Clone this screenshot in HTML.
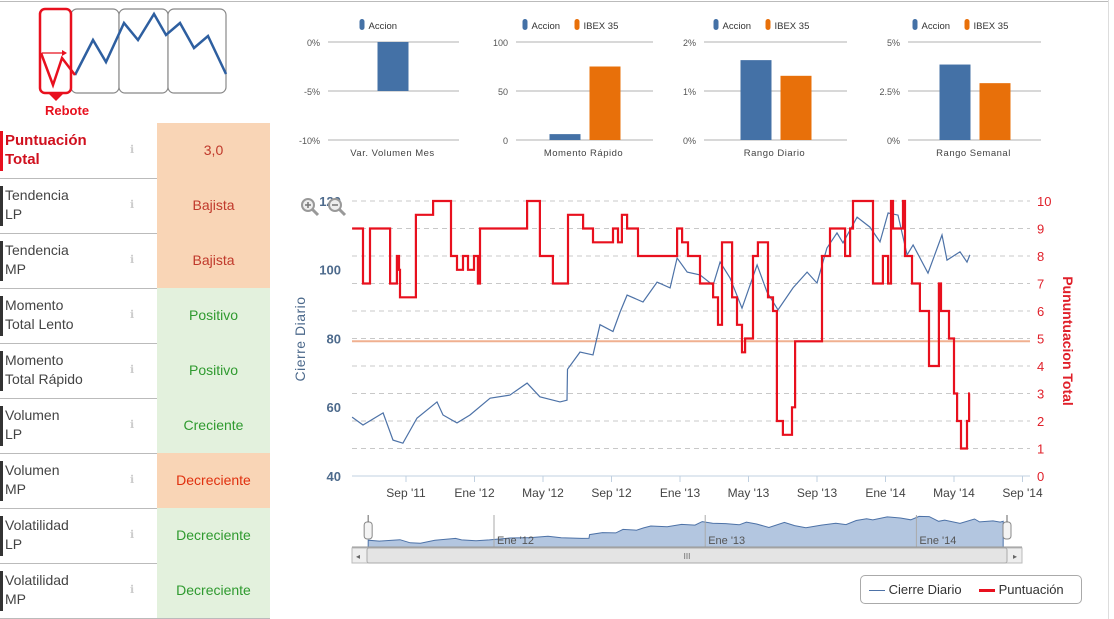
<!DOCTYPE html>
<html><head><meta charset="utf-8">
<style>
body{margin:0;width:1114px;height:619px;overflow:hidden;background:#fff;font-family:"Liberation Sans",sans-serif;position:relative}
.row{position:absolute;left:0;width:270px;height:55px;border-bottom:1px solid #bbb}
.lbl{position:absolute;left:5px;top:8px;font-size:14px;line-height:19px;color:#444}
.bar{position:absolute;left:0;top:8px;width:3px;height:40px;background:#333}
.info{position:absolute;left:130px;top:20px;font-size:11px;color:#ccc}
.val{position:absolute;left:157px;top:0;width:113px;height:55px;line-height:55px;text-align:center;font-size:14px}
.peach{background:#f9d5b6}.green{background:#e3f1dd}
</style></head><body>
<div style="position:absolute;left:0;top:1px;width:1108px;height:1px;background:#bbb"></div>
<div style="position:absolute;left:1108px;top:0;width:1px;height:619px;background:#ddd"></div>
<svg width="270" height="122" style="position:absolute;left:0;top:0">
<rect x="71" y="9" width="48" height="84" rx="6" fill="#fff" stroke="#888" stroke-width="1.2"/>
<rect x="119" y="9" width="49" height="84" rx="6" fill="#fff" stroke="#888" stroke-width="1.2"/>
<rect x="168" y="9" width="58" height="84" rx="6" fill="#fff" stroke="#888" stroke-width="1.2"/>
<rect x="40" y="9" width="31" height="84" rx="5" fill="none" stroke="#e8101e" stroke-width="2.5"/>
<polygon points="48,93 64,93 56,101" fill="#e8101e"/>
<polyline points="75,75 93,40 106,62 124,23 138,40 154,14 166,35 180,23 194,48 208,36 226,74" fill="none" stroke="#2e5fa0" stroke-width="2.5"/>
<polyline points="41,53 53,85 62,58 75,75" fill="none" stroke="#e8101e" stroke-width="2.5"/>
<line x1="42" y1="53" x2="64" y2="53" stroke="#e8101e" stroke-width="1.2"/><polygon points="62,50 67,53 62,56" fill="#e8101e"/>
<text x="45" y="115" font-size="13" font-weight="bold" fill="#e8101e">Rebote</text>
</svg>
<div id="table"></div>
<svg id="svg" width="1114" height="619" style="position:absolute;left:0;top:0;pointer-events:none"></svg>
<div style="position:absolute;left:860px;top:575px;width:220px;height:27px;border:1px solid #aaa;border-radius:5px;font-size:13px;color:#333;line-height:27px">
<span style="position:absolute;left:8px"><span style="display:inline-block;width:16px;height:1px;background:#4d72a7;vertical-align:middle"></span> Cierre Diario</span>
<span style="position:absolute;left:118px"><span style="display:inline-block;width:16px;height:3px;background:#e8101e;vertical-align:middle"></span> Puntuación</span>
</div>
<script>
const rowLabels=[["Puntuación","Total"],["Tendencia","LP"],["Tendencia","MP"],["Momento","Total Lento"],["Momento","Total Rápido"],["Volumen","LP"],["Volumen","MP"],["Volatilidad","LP"],["Volatilidad","MP"]];
const rowValues=["3,0","Bajista","Bajista","Positivo","Positivo","Creciente","Decreciente","Decreciente","Decreciente"];
const rowBg=["peach","peach","peach","green","green","green","peach","green","green"];
const rowColor=["#c0392b","#c0392b","#c0392b","#2f9a2f","#2f9a2f","#2f9a2f","#e0300e","#2f9a2f","#2f9a2f"];
const tbl=document.getElementById('table');
rowLabels.forEach((l,i)=>{
 const r=document.createElement('div');r.className='row';r.style.top=(123+i*55)+'px';
 
 
 const first=i===0;
 r.innerHTML=`<div class="bar" style="background:${first?'#e8101e':'#333'}"></div><div class="lbl" style="${first?'color:#d0101e;font-weight:bold;font-size:15px':''}">${l[0]}<br>${l[1]}</div><div class="info">&#8505;</div><div class="val ${rowBg[i]}" style="color:${rowColor[i]}">${rowValues[i]}</div>`;
 tbl.appendChild(r);
});
const NS="http://www.w3.org/2000/svg",svg=document.getElementById('svg');
function el(t,a,txt,p){const e=document.createElementNS(NS,t);for(const k in a)e.setAttribute(k,a[k]);if(txt!=null)e.textContent=txt;(p||svg).appendChild(e);return e;}

// mini bar charts
const miniTitles=["Var. Volumen Mes","Momento Rápido","Rango Diario","Rango Semanal"];
const miniAccion=[-5,6,1.63,3.85];
const miniIbex=[null,75,1.31,2.9];
const miniMax=[0,100,2,5];
const miniMin=[-10,0,0,0];
const miniTicks=[["0%","-5%","-10%"],["100","50","0"],["2%","1%","0%"],["5%","2.5%","0%"]];
const miniLeft=[328,516,704,908], miniRight=[459,653,847,1041];
miniTitles.forEach((t,i)=>{
 const x0=miniLeft[i],x1=miniRight[i],yT=42,yB=140;
 const ys=v=>yT+(miniMax[i]-v)/(miniMax[i]-miniMin[i])*(yB-yT);
 miniTicks[i].forEach((tk,j)=>{const y=yT+j*49;
  const g=el('line',{x1:x0,x2:x1,y1:y,y2:y,stroke:'#ccc','stroke-width':1.5});
  
  
  const tx=el('text',{x:x0-8,y:y+4,'font-size':9,fill:'#555','text-anchor':'end'},tk);
  
  });
 const cx=(x0+x1)/2, two=miniIbex[i]!==null;
 const base=ys(Math.min(Math.max(0,miniMin[i]),miniMax[i]));
 const bx=two?cx-35:cx-16;
 const y0=ys(0),ya=ys(miniAccion[i]);
 const b=el('rect',{x:bx,y:Math.min(y0,ya),width:31,height:Math.abs(ya-y0),fill:'#4471a6'});
 
 
 if(two){const yi=ys(miniIbex[i]);const b2=el('rect',{x:cx+5,y:Math.min(y0,yi),width:31,height:Math.abs(yi-y0),fill:'#e8700a'});
  
  }
 const ct=el('text',{x:cx-1,y:156,'font-size':9.5,fill:'#444','text-anchor':'middle','letter-spacing':'0.5'},t);
 
 
 const lx=two?cx-62:cx-34;
 el('rect',{x:lx,y:19,width:5,height:11,rx:2.5,fill:'#4471a6'});
 const la=el('text',{x:lx+9,y:29,'font-size':9.5,fill:'#333'},'Accion');
 
 
 if(two){el('rect',{x:lx+52,y:19,width:5,height:11,rx:2.5,fill:'#e8700a'});
  const li=el('text',{x:lx+61,y:29,'font-size':9.5,fill:'#333'},'IBEX 35');
  
  }
});

// main chart data (m = months since Jan 2011)
const closeMonths=[4.85,5.49,6.66,7.24,7.82,8.64,9.81,10.16,10.98,11.74,12.91,14.07,15.07,15.82,16.99,17.40,17.43,18.16,18.92,19.33,20.09,20.50,20.91,21.84,22.66,23.42,23.83,24.42,25.17,25.93,26.34,26.92,27.62,28.50,29.08,29.72,30.60,31.42,32.00,32.58,33.17,33.52,34.34,35.09,35.68,36.15,36.73,37.26,37.61,38.48,39.30,39.59,40.35,40.76,40.93];
const closeValues=[57.1,54.8,58.3,50.4,49.5,56.8,61.5,57.7,55.4,57.7,62.6,63.5,67,63,61.5,62,71,76,75.2,84,82,87.7,92.6,90.6,96.4,94.7,103.4,99.3,98.5,95.5,102.2,97.6,88.8,101.4,93.5,88.3,94.7,99.3,96.1,106.3,110.7,107.8,115.3,112.4,108.1,116.5,115.9,104.3,107.2,99.0,110.1,102.8,105.2,102.2,104.3];
const scoreMonths=[4.85,5.49,5.90,7.07,7.47,7.59,7.65,8.58,9.58,10.63,10.98,11.33,11.62,11.97,12.20,12.32,15.07,15.82,16.58,17.46,18.34,18.92,20.09,20.38,20.61,20.91,21.55,23.83,24.12,24.47,25.17,25.93,26.22,26.45,27.04,27.33,27.62,27.80,28.26,28.55,29.14,29.43,29.66,30.01,30.54,30.72,32.29,32.76,33.64,33.93,34.10,35.27,35.85,36.15,36.32,36.44,37.02,37.14,37.55,38.01,38.54,39.12,39.24,39.71,40.0,40.18,40.41,40.76,40.88,40.93];
const scoreValues=[9,7,9,7,8,7.5,6.5,9.5,10,8,7.5,8,7.5,8,7,9,10,8,7,9.5,9,8.5,9,8.5,9.5,9,8,9,8.5,8,7,6.5,5.5,8.5,6.5,5.5,4.5,5,8,8.5,6.5,6,2,1.5,2.5,4.9,8,9,8,9,10,7,8,7,10,9,10,8,7,6,4,7,6,5,3,2,1,2,3,3];
const leftTicks=[120,100,80,60,40];
const rightTicks=[0,1,2,3,4,5,6,7,8,9,10];
const xTickMonths=[8,12,16,20,24,28,32,36,40,44];
const xTickLabels=["Sep '11","Ene '12","May '12","Sep '12","Ene '13","May '13","Sep '13","Ene '14","May '14","Sep '14"];
const navTickMonths=[12,24,36];
const navTickLabels=["Ene '12","Ene '13","Ene '14"];
const threshold=4.9;

const xM=m=>406+(m-8)*17.125;
const yL=v=>201+(120-v)*3.435;
const yR=s=>476-s*27.5;
const PL=352,PR=1030;

rightTicks.forEach(s=>{const y=yR(s);
 const g=el('line',{x1:PL,x2:PR,y1:y,y2:y,stroke:s===0?'#c0d0e0':'#c8c8c8','stroke-dasharray':s===0?'':'5,4','stroke-width':1});
 
 
 const t=el('text',{x:1037,y:y+5,'font-size':13,fill:'#e0202a'},String(s));
 
 });
leftTicks.forEach(v=>{const t=el('text',{x:341,y:yL(v)+5,'font-size':13,'font-weight':'bold',fill:'#4d6a8c','text-anchor':'end'},String(v));
 
 });
xTickMonths.forEach((m,i)=>{const x=xM(m);
 el('line',{x1:x,x2:x,y1:476,y2:482,stroke:'#c0d0e0'});
 const t=el('text',{x:x,y:497,'font-size':12,fill:'#444','text-anchor':'middle'},xTickLabels[i]);
 
 });
const thr=el('line',{x1:PL,x2:PR,y1:yR(threshold),y2:yR(threshold),stroke:'#f0b090','stroke-width':2});



let cp=closeMonths.map((m,i)=>xM(m).toFixed(1)+','+yL(closeValues[i]).toFixed(1)).join(' ');
const cl=el('polyline',{points:cp,fill:'none',stroke:'#4d72a7','stroke-width':1.2});


let sp=[];
scoreMonths.forEach((m,i)=>{const x=xM(m).toFixed(1);
 if(i>0)sp.push(x+','+yR(scoreValues[i-1]).toFixed(1));
 sp.push(x+','+yR(scoreValues[i]).toFixed(1));});
const sl=el('polyline',{points:sp.join(' '),fill:'none',stroke:'#e8101e','stroke-width':2.2});



const at=el('text',{transform:'translate(305,339) rotate(-90)','font-size':14,fill:'#4d6a8c','text-anchor':'middle','letter-spacing':'0.5'},'Cierre Diario');


const rt=el('text',{transform:'translate(1063,341) rotate(90)','font-size':14,'font-weight':'bold',fill:'#e0202a','text-anchor':'middle'},'Pununtuacion Total');



// zoom icons
[308,335].forEach((x,i)=>{const g=el('g',{});
 
 
 el('circle',{cx:x,cy:205,r:6,fill:'#eee',stroke:'#999','stroke-width':2},null,g);
 el('line',{x1:x+4,y1:209,x2:x+10,y2:215,stroke:'#999','stroke-width':3},null,g);
 el('line',{x1:x-3,y1:205,x2:x+3,y2:205,stroke:'#777','stroke-width':1.5},null,g);
 if(!i)el('line',{x1:x,y1:202,x2:x,y2:208,stroke:'#777','stroke-width':1.5},null,g);});

// navigator
const nX=m=>494+(m-12)*17.6;
const nY=v=>547-(v-40)/80*32;
const nav=el('g',{});


let np=closeMonths.map((m,i)=>nX(m).toFixed(1)+','+nY(closeValues[i]).toFixed(1));
el('polygon',{points:nX(closeMonths[0])+',547 '+np.join(' ')+' '+nX(closeMonths[closeMonths.length-1])+',547',fill:'#b3c6e0',stroke:'#4d72a7','stroke-width':1},null,nav);
navTickMonths.forEach((m,i)=>{const x=nX(m);el('line',{x1:x,x2:x,y1:515,y2:547,stroke:'#aaa'},null,nav);
 el('text',{x:x+3,y:544,'font-size':11,fill:'#555'},navTickLabels[i],nav);});
el('line',{x1:352,x2:1022,y1:547,y2:547,stroke:'#999'},null,nav);
el('rect',{x:352,y:548,width:670,height:15,fill:'#eee',stroke:'#bbb'},null,nav);
el('rect',{x:367,y:548,width:640,height:15,fill:'#e4e4e4',stroke:'#aaa',rx:2},null,nav);
el('text',{x:687,y:559,'font-size':8,fill:'#666','text-anchor':'middle'},'III',nav);
el('text',{x:356,y:559,'font-size':8,fill:'#666'},'◂',nav);
el('text',{x:1013,y:559,'font-size':8,fill:'#666'},'▸',nav);
[nX(closeMonths[0]),1007].forEach(x=>{el('rect',{x:x-4,y:522,width:8,height:17,rx:3,fill:'#f4f4f4',stroke:'#888'},null,nav);
 el('line',{x1:x,x2:x,y1:515,y2:522,stroke:'#666'},null,nav);});
</script>
</body></html>
